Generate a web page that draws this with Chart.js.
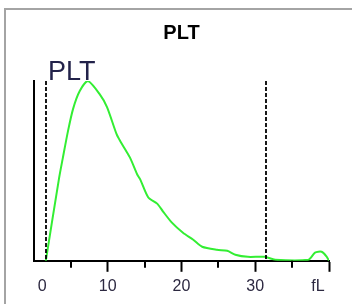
<!DOCTYPE html>
<html>
<head>
<meta charset="utf-8">
<script src="https://cdn.jsdelivr.net/npm/chart.js@4/dist/chart.umd.min.js"></script>
<style>
  html, body { margin: 0; padding: 0; background: #ffffff; }
  #wrap { position: relative; width: 352px; height: 304px; overflow: hidden; }
  #frame { position: absolute; left: 4px; top: 8px; width: 400px; height: 400px; border: 2px solid #a4a4a4; box-sizing: border-box; }
  #c { position: absolute; left: 0; top: 0; }
</style>
</head>
<body>
<div id="wrap">
  <div id="frame"></div>
  <canvas id="c" width="352" height="304"></canvas>
</div>
<script>
// fL values (x) and relative counts (y)
const sizes = [1.6, 3.4, 3.9, 4.6, 5.3, 6.2, 7.3, 8.9, 9.9, 11.2, 11.7, 13.0, 14.0, 14.4, 15.5, 16.7, 17.5, 18.7, 20.2, 21.6, 22.8, 24.8, 26.2, 27.3, 29.0, 31.3, 32.7, 37.2, 38.1, 39.0, 39.7, 40.0];
const counts = [0, 46.0, 57.0, 72.0, 84.5, 94.4, 100, 92.7, 85.5, 70.4, 66.5, 57.5, 48.0, 45.3, 35.2, 31.8, 27.4, 21.2, 15.6, 11.7, 7.8, 6.1, 5.6, 3.4, 2.2, 2.2, 0.6, 0.6, 4.5, 5.0, 2.2, 0];
const tickValues = [0, 1.1, 5, 10, 15, 20, 25, 30, 35, 38.5, 40];
const tickLabels = {1.1: '0', 10: '10', 20: '20', 30: '30', 38.5: 'fL'};
const majorTicks = [10, 20, 30, 40];
const minorTicks = [5, 15, 25, 35];
const thresholds = [1.6, 31.5];
const chartTitle = 'PLT';
const innerLabel = 'PLT';

const overlay = {
  id: 'overlay',
  afterDatasetsDraw(chart) {
    const ctx = chart.ctx;
    const xs = chart.scales.x;
    const top = chart.chartArea.top, bottom = chart.chartArea.bottom;
    ctx.save();
    ctx.strokeStyle = '#000';
    ctx.lineWidth = 1.8;
    ctx.setLineDash([4, 2]);
    thresholds.forEach(v => {
      const px = Math.round(xs.getPixelForValue(v));
      ctx.beginPath(); ctx.moveTo(px, top); ctx.lineTo(px, bottom); ctx.stroke();
    });
    ctx.setLineDash([]);
    ctx.lineWidth = 2;
    minorTicks.forEach(v => {
      const px = Math.round(xs.getPixelForValue(v));
      ctx.beginPath(); ctx.moveTo(px, bottom); ctx.lineTo(px, bottom + 7); ctx.stroke();
    });
    ctx.fillStyle = '#22224a';
    ctx.font = '27px "Liberation Sans", Arial, sans-serif';
    ctx.textBaseline = 'alphabetic';
    ctx.textAlign = 'left';
    ctx.fillText(innerLabel, xs.getPixelForValue(1.9), top - 1);
    ctx.restore();
  }
};

new Chart(document.getElementById('c'), {
  type: 'line',
  data: {
    datasets: [{
      data: sizes.map((s, i) => ({x: s, y: counts[i]})),
      borderColor: '#33ee33',
      borderWidth: 2,
      pointRadius: 0,
      tension: 0.25,
      fill: false
    }]
  },
  options: {
    responsive: false,
    animation: false,
    layout: { padding: { left: 34, right: 23, top: 0, bottom: 3 } },
    plugins: {
      legend: { display: false },
      tooltip: { enabled: false },
      title: {
        display: true,
        text: chartTitle,
        color: '#000',
        font: { family: '"Liberation Sans", Arial, sans-serif', size: 20, weight: 'bold' },
        padding: { top: 21, bottom: 36 }
      }
    },
    scales: {
      x: {
        type: 'linear',
        min: 0, max: 40,
        afterBuildTicks: (axis) => { axis.ticks = tickValues.map(v => ({value: v})); },
        border: { display: true, color: '#000', width: 2 },
        grid: {
          drawOnChartArea: false,
          drawTicks: true,
          tickLength: 11,
          tickWidth: 2,
          tickColor: (c) => majorTicks.includes(c.tick.value) ? '#000' : 'rgba(0,0,0,0)'
        },
        ticks: {
          autoSkip: false,
          maxRotation: 0,
          padding: 5,
          color: '#2c2840',
          font: { family: '"Liberation Sans", Arial, sans-serif', size: 16 },
          callback: (v) => tickLabels[v] !== undefined ? tickLabels[v] : ''
        }
      },
      y: {
        min: 0, max: 100,
        border: { display: true, color: '#000', width: 2 },
        grid: { display: false, drawTicks: false },
        ticks: { display: false }
      }
    }
  },
  plugins: [overlay]
});
</script>
</body>
</html>
